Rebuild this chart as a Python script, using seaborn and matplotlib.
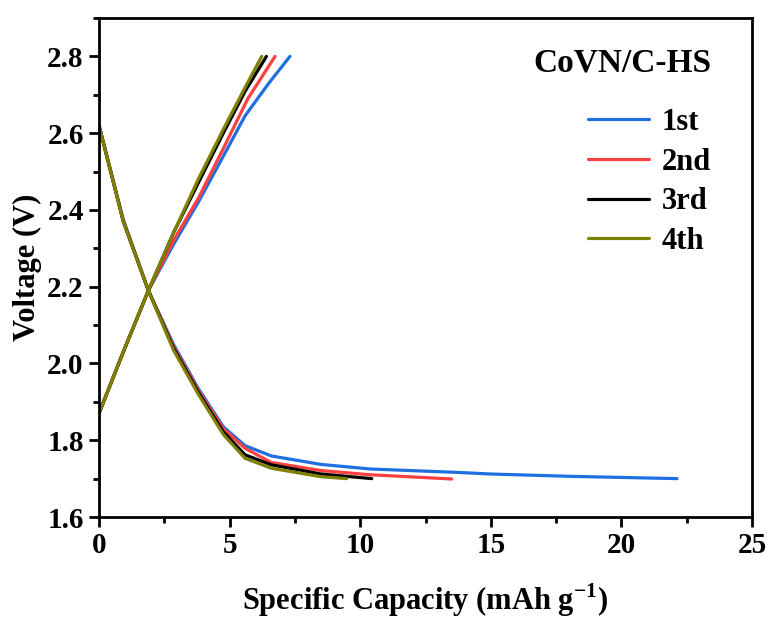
import matplotlib
matplotlib.use("Agg")
import matplotlib.pyplot as plt
import pandas as pd
import seaborn as sns
from matplotlib.ticker import MultipleLocator

# cycle labels and colours
cycles = ["1st", "2nd", "3rd", "4th"]
colors = ["#1f6fe0", "#ff4040", "#000000", "#808000"]

# charge curves (voltage rising)
charge_x = {
    "1st": [0, 0.93, 1.89, 2.85, 3.8, 4.76, 5.59, 6.5, 7.31],
    "2nd": [0, 0.93, 1.89, 2.85, 3.8, 4.76, 5.7, 6.74],
    "3rd": [0, 0.93, 1.89, 2.85, 3.8, 4.76, 5.6, 6.41],
    "4th": [0, 0.93, 1.89, 2.85, 3.8, 4.76, 5.6, 6.23],
}
charge_y = {
    "1st": [1.87, 2.03, 2.19, 2.31, 2.42, 2.54, 2.645, 2.73, 2.80],
    "2nd": [1.87, 2.03, 2.19, 2.32, 2.43, 2.56, 2.69, 2.80],
    "3rd": [1.87, 2.03, 2.19, 2.34, 2.47, 2.60, 2.71, 2.80],
    "4th": [1.87, 2.03, 2.19, 2.34, 2.48, 2.61, 2.72, 2.80],
}

# discharge curves (voltage falling)
discharge_x = {
    "1st": [0, 0.93, 1.89, 2.85, 3.8, 4.76, 5.59, 6.6, 8.5, 10.4, 13.8, 15.0, 18.0, 22.13],
    "2nd": [0, 0.93, 1.89, 2.85, 3.8, 4.76, 5.59, 6.6, 8.5, 10.4, 13.5],
    "3rd": [0, 0.93, 1.89, 2.85, 3.8, 4.76, 5.59, 6.6, 8.5, 10.44],
    "4th": [0, 0.93, 1.89, 2.85, 3.8, 4.76, 5.59, 6.6, 8.5, 9.48],
}
discharge_y = {
    "1st": [2.62, 2.375, 2.19, 2.05, 1.935, 1.835, 1.786, 1.759, 1.737, 1.725, 1.716, 1.712, 1.706, 1.700],
    "2nd": [2.62, 2.37, 2.19, 2.045, 1.93, 1.83, 1.779, 1.742, 1.721, 1.710, 1.699],
    "3rd": [2.62, 2.37, 2.19, 2.04, 1.925, 1.822, 1.762, 1.736, 1.712, 1.700],
    "4th": [2.62, 2.37, 2.19, 2.035, 1.92, 1.815, 1.753, 1.727, 1.705, 1.700],
}

sns.set_style("ticks")
plt.rcParams["font.family"] = ["Liberation Serif", "DejaVu Serif"]
plt.rcParams["font.weight"] = "bold"
plt.rcParams["text.color"] = "black"
plt.rcParams["axes.labelcolor"] = "black"
plt.rcParams["xtick.color"] = "black"
plt.rcParams["ytick.color"] = "black"
plt.rcParams["axes.edgecolor"] = "black"
plt.rcParams["mathtext.fontset"] = "custom"
plt.rcParams["mathtext.rm"] = "Liberation Serif:bold"
plt.rcParams["mathtext.bf"] = "Liberation Serif:bold"

fig = plt.figure(figsize=(7.68, 6.19), dpi=100)
ax = fig.add_axes([99 / 768, 1 - 517 / 619, (752 - 99) / 768, (517 - 18) / 619])

for name, color in zip(cycles, colors):
    seg_c = pd.DataFrame({"x": charge_x[name], "y": charge_y[name]})
    seg_d = pd.DataFrame({"x": discharge_x[name], "y": discharge_y[name]})
    sns.lineplot(data=seg_c, x="x", y="y", ax=ax, color=color, lw=2.3,
                 sort=False, estimator=None, label=name)
    sns.lineplot(data=seg_d, x="x", y="y", ax=ax, color=color, lw=2.3,
                 sort=False, estimator=None)

ax.set_xlim(0, 25)
ax.set_ylim(1.6, 2.9)
ax.xaxis.set_major_locator(MultipleLocator(5))
ax.xaxis.set_minor_locator(MultipleLocator(2.5))
ax.yaxis.set_minor_locator(MultipleLocator(0.1))
ax.set_yticks([1.6, 1.8, 2.0, 2.2, 2.4, 2.6, 2.8])
ax.yaxis.set_major_formatter(plt.FormatStrFormatter("%.1f"))

ax.tick_params(which="major", direction="out", length=7, width=2, labelsize=21, pad=4)
ax.tick_params(which="minor", direction="out", length=4, width=2)
for s in ax.spines.values():
    s.set_linewidth(2)

ax.set_xlabel("Specific Capacity (mAh g$^{-1}$)", fontsize=22, fontweight="bold", labelpad=16)
ax.set_ylabel("Voltage (V)", fontsize=22, fontweight="bold", labelpad=4)

fig.text(622 / 768, 1 - 63 / 619, "CoVN/C-HS", fontsize=24, fontweight="bold",
         ha="center", va="center")
leg = ax.legend(loc="upper left", bbox_to_anchor=(588 / 768, 1 - 108 / 619),
                bbox_transform=fig.transFigure, frameon=False, fontsize=22,
                handlelength=2.0, handletextpad=0.4, labelspacing=0.35,
                borderpad=0, borderaxespad=0)
for t in leg.get_texts():
    t.set_fontweight("bold")

fig.savefig("out.png", dpi=100)
